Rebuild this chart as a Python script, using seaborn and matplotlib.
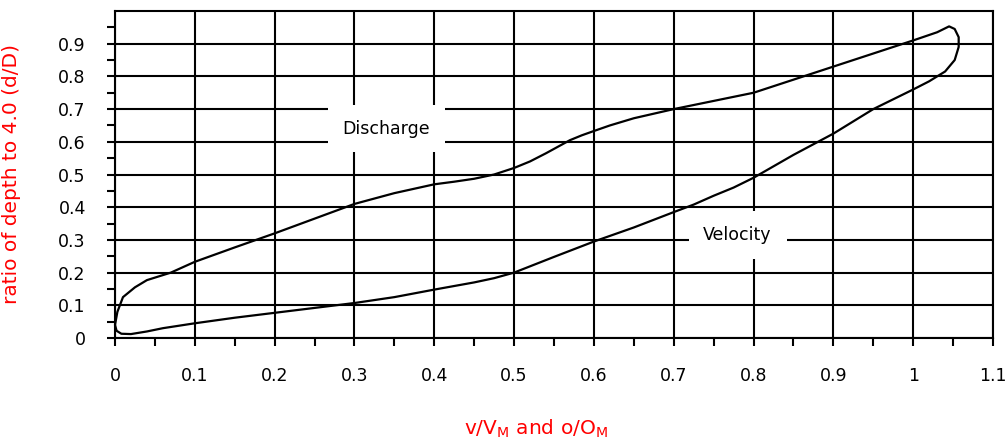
import numpy as np
import pandas as pd
import matplotlib
matplotlib.use("Agg")
import matplotlib.pyplot as plt
import seaborn as sns

# discharge branch (bottom-left up to the top-right turn)
discharge_x = [0.0, 0.003, 0.01, 0.025, 0.04, 0.07, 0.1, 0.15, 0.2, 0.25, 0.3, 0.35, 0.4, 0.425,
               0.45, 0.475, 0.5, 0.52, 0.54, 0.555, 0.57, 0.585, 0.6, 0.62, 0.65, 0.7, 0.75, 0.8,
               0.85, 0.9, 0.95, 1.0, 1.03, 1.045, 1.052, 1.057, 1.057, 1.052, 1.04]
discharge_y = [0.04, 0.08, 0.125, 0.155, 0.177, 0.2, 0.233, 0.277, 0.32, 0.365, 0.41, 0.443, 0.47, 0.478,
               0.487, 0.5, 0.52, 0.54, 0.565, 0.585, 0.605, 0.62, 0.633, 0.65, 0.672, 0.70, 0.725, 0.75,
               0.79, 0.83, 0.87, 0.91, 0.935, 0.953, 0.945, 0.92, 0.89, 0.85, 0.815]

# velocity branch (top-right back down to the origin)
velocity_x = [1.02, 1.0, 0.95, 0.9, 0.85, 0.8, 0.775, 0.75, 0.725, 0.7, 0.65, 0.6, 0.55, 0.5, 0.475,
              0.45, 0.4, 0.35, 0.3, 0.25, 0.2, 0.15, 0.1, 0.06, 0.04, 0.02, 0.008, 0.002, 0.0]
velocity_y = [0.785, 0.76, 0.70, 0.625, 0.56, 0.49, 0.46, 0.435, 0.408, 0.385, 0.338, 0.295, 0.248, 0.20, 0.183,
              0.17, 0.148, 0.125, 0.107, 0.092, 0.077, 0.062, 0.045, 0.03, 0.02, 0.012, 0.013, 0.022, 0.04]

x_ticks = [0, 0.1, 0.2, 0.3, 0.4, 0.5, 0.6, 0.7, 0.8, 0.9, 1.0, 1.1]
x_labels = ["0", "0.1", "0.2", "0.3", "0.4", "0.5", "0.6", "0.7", "0.8", "0.9", "1", "1.1"]
y_ticks = [0, 0.1, 0.2, 0.3, 0.4, 0.5, 0.6, 0.7, 0.8, 0.9]
y_labels = ["0", "0.1", "0.2", "0.3", "0.4", "0.5", "0.6", "0.7", "0.8", "0.9"]

df = pd.DataFrame({
    "x": discharge_x + velocity_x,
    "y": discharge_y + velocity_y,
})

sns.set_style("white")
plt.rcParams["font.family"] = ["DejaVu Sans"]

fig = plt.figure(figsize=(10.08, 4.46), dpi=100)
ax = fig.add_axes([115 / 1008, 108 / 446, 878 / 1008, 327 / 446])

sns.lineplot(data=df, x="x", y="y", sort=False, estimator=None, color="black",
             linewidth=1.6, ax=ax, clip_on=False, zorder=3)

ax.set_xlim(0, 1.1)
ax.set_ylim(0, 1.0)
ax.set_xticks(x_ticks)
ax.set_xticklabels(x_labels)
ax.set_xticks(np.arange(0.05, 1.1, 0.1), minor=True)
ax.set_yticks(y_ticks)
ax.set_yticklabels(y_labels)
ax.set_yticks(np.arange(0.05, 1.0, 0.1), minor=True)

ax.grid(True, which="major", color="black", linewidth=1.5)
ax.set_axisbelow(True)
for s in ax.spines.values():
    s.set_color("black")
    s.set_linewidth(1.5)

ax.tick_params(axis="both", which="both", direction="out", length=6, width=1.5,
               color="black", labelcolor="black", labelsize=12.5)
ax.tick_params(axis="x", which="both", bottom=True, pad=15)
ax.tick_params(axis="y", which="both", left=True, pad=15)

ax.set_xlabel("v/V$_\\mathregular{M}$ and o/O$_\\mathregular{M}$", color="red", fontsize=14.5)
ax.xaxis.set_label_coords(0.48, -0.245)
ax.set_ylabel("ratio of depth to 4.0 (d/D)", color="red", fontsize=14.5)
ax.yaxis.set_label_coords(-0.107, 0.5)

box = dict(boxstyle="square,pad=0.85", facecolor="white", edgecolor="none")
ax.text(0.34, 0.64, "Discharge", fontsize=12.5, color="black", ha="center", va="center",
        bbox=box, zorder=4)
ax.text(0.78, 0.315, "Velocity", fontsize=12.5, color="black", ha="center", va="center",
        bbox=box, zorder=4)

fig.savefig("out.png", dpi=100)
